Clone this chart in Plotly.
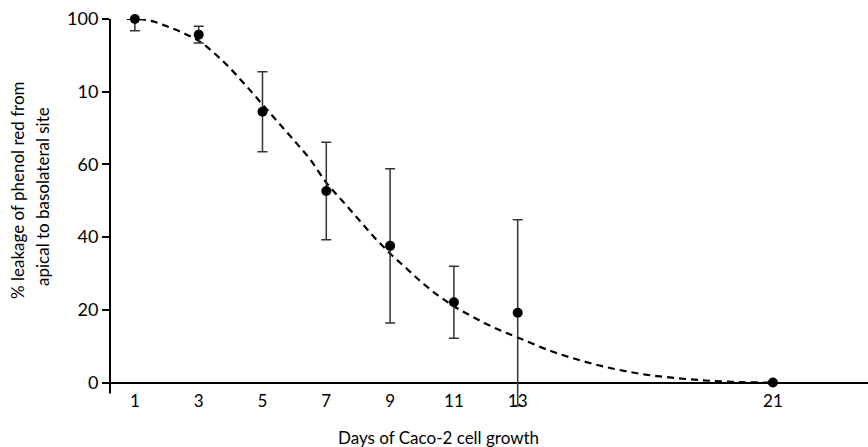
import plotly.graph_objects as go

# Measured leakage (mean ± SD) by day of Caco-2 growth
days = [1, 3, 5, 7, 9, 11, 13, 21]
leakage = [100, 95.7, 74.5, 52.7, 37.6, 22.1, 19.2, 0]
sd = [3.2, 2.3, 11.0, 13.4, 21.2, 9.9, 25.6, 0]

# Fitted curve, read along its path
fit_days = [0.75, 1, 1.5, 2, 2.5, 3, 3.5, 4, 4.5, 5, 5.5, 6, 6.5, 7, 7.5, 8, 8.5,
            9, 9.5, 10, 10.5, 11, 11.5, 12, 12.5, 13, 14, 15, 16, 17, 18, 19, 20, 21]
fit_vals = [100, 100, 99.5, 98, 96.2, 94, 90.5, 86.3, 81.5, 76.5, 71.5, 66.5, 61.3,
            55, 50, 45, 40, 35.5, 31.5, 27.5, 24, 21, 18.5, 16.2, 14.2, 12.4, 8.8,
            6, 3.8, 2.2, 1.2, 0.5, 0.1, 0]

x_ticks = [1, 3, 5, 7, 9, 11, 13, 21]
y_ticks = [0, 20, 40, 60, 80, 100]
y_ticktext = ["0", "20", "40", "60", "10", "100"]

FONT = "Lato"
Y_AXIS_BOTTOM = -3  # where the drawn y-axis line stops below zero

fig = go.Figure()
fig.add_trace(go.Scatter(
    x=fit_days, y=fit_vals, mode="lines",
    line=dict(color="black", width=2.2, dash="7px,5px", shape="spline"),
    hoverinfo="skip", showlegend=False,
))
fig.add_trace(go.Scatter(
    x=days, y=leakage, mode="markers",
    marker=dict(color="black", size=10),
    error_y=dict(type="data", array=sd, visible=True,
                 color="#333333", thickness=1.5, width=5),
    cliponaxis=False, showlegend=False,
))

fig.update_layout(
    width=868, height=447,
    margin=dict(l=110, r=0, t=19, b=39),
    paper_bgcolor="white", plot_bgcolor="white",
    font=dict(family=FONT, size=17, color="black"),
    xaxis=dict(
        range=[0.22, 23.98], tickvals=x_ticks, ticks="",
        showline=False, showgrid=False, zeroline=False,
        tickfont=dict(size=17), ticklabelstandoff=-19,
    ),
    yaxis=dict(
        range=[-7, 100], tickvals=y_ticks, ticktext=y_ticktext,
        ticks="outside", ticklen=7, tickwidth=2, tickcolor="black",
        showline=False, showgrid=False,
        zeroline=True, zerolinecolor="black", zerolinewidth=2,
        tickfont=dict(size=18),
    ),
    shapes=[
        dict(type="line", xref="paper", x0=0, x1=0, yref="y",
             y0=Y_AXIS_BOTTOM, y1=y_ticks[-1],
             line=dict(color="black", width=2)),
    ],
    annotations=[
        dict(text="Days of Caco-2 cell growth", xref="paper", yref="paper",
             x=0.434, y=-0.0746, xanchor="center", yanchor="middle",
             showarrow=False, font=dict(size=17)),
        dict(text="% leakage of phenol red from", xref="paper", yref="paper",
             x=-0.1227, y=0.5604, xanchor="center", yanchor="middle",
             textangle=-90, showarrow=False, font=dict(size=17)),
        dict(text="apical to basolateral site", xref="paper", yref="paper",
             x=-0.0884, y=0.545, xanchor="center", yanchor="middle",
             textangle=-90, showarrow=False, font=dict(size=17)),
    ],
)

fig.write_html("out.html")
